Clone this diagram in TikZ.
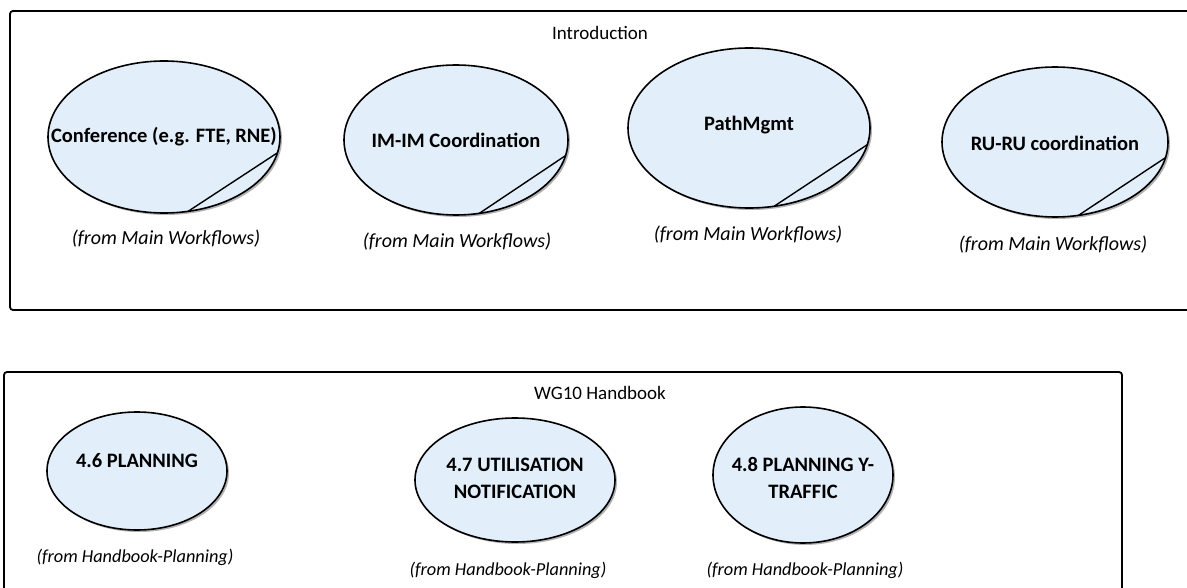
\documentclass[tikz,border=0pt]{standalone}
\usepackage{fontspec}
\setmainfont{Carlito}
\usetikzlibrary{shadows,shapes.geometric,calc}
\definecolor{ucfill}{RGB}{226,238,250}
\tikzset{
  x=1pt, y=-1pt,
  pkg/.style={draw=black, line width=1.8pt, rounded corners=3pt},
  uc/.style={ellipse, draw=black, line width=1.6pt, fill=ucfill, inner sep=0pt,
    drop shadow={shadow xshift=2pt, shadow yshift=-2pt, fill=black!30, opacity=1}},
  ucl/.style={font=\fontsize{20.5}{27}\selectfont\bfseries, align=center, inner sep=0pt},
  fromtxt/.style={font=\fontsize{20}{23}\selectfont\itshape, inner sep=0pt},
  fromhb/.style={font=\fontsize{18.3}{23}\selectfont\itshape, inner sep=0pt},
  pkgtitle/.style={font=\fontsize{19}{23}\selectfont, inner sep=0pt},
  fold/.style={draw=black, line width=1.4pt}
}
\begin{document}
\begin{tikzpicture}
\useasboundingbox (0,0) rectangle (1187,588);
% packages
\draw[pkg] (10,11) rectangle (1200,310);
\node[pkgtitle] (intro) at (600,33) {Introduction};
\draw[pkg] (4,372) rectangle (1122,610);
\node[pkgtitle] (wg10) at (600,393) {WG10 Handbook};

% Introduction use cases
\node[uc, minimum width=232pt, minimum height=152pt] (e1) at (164,137) {};
\node[uc, minimum width=224pt, minimum height=150pt] (e2) at (456,140) {};
\node[uc, minimum width=242pt, minimum height=160pt] (e3) at (749,128) {};
\node[uc, minimum width=226pt, minimum height=150pt] (e4) at (1055,142) {};
\draw[fold] ($(e1.center)+({116*cos(12)},{76*sin(12)})$) -- ($(e1.center)+({116*cos(78)},{76*sin(78)})$);
\draw[fold] ($(e2.center)+({112*cos(12)},{75*sin(12)})$) -- ($(e2.center)+({112*cos(78)},{75*sin(78)})$);
\draw[fold] ($(e3.center)+({121*cos(12)},{80*sin(12)})$) -- ($(e3.center)+({121*cos(78)},{80*sin(78)})$);
\draw[fold] ($(e4.center)+({113*cos(12)},{75*sin(12)})$) -- ($(e4.center)+({113*cos(78)},{75*sin(78)})$);
\node[ucl] (t1) at (164,137) {Conference (e.g. FTE, RNE)};
\node[ucl] (t2) at (456,140) {IM-IM Coordination};
\node[ucl] (t3) at (749,125) {PathMgmt};
\node[ucl] (t4) at (1055,143) {RU-RU coordination};
\node[fromtxt] (c1) at (166,239) {(from Main Workflows)};
\node[fromtxt] (c2) at (457,242) {(from Main Workflows)};
\node[fromtxt] (c3) at (748,235) {(from Main Workflows)};
\node[fromtxt] (c4) at (1053,245) {(from Main Workflows)};

% WG10 use cases
\node[uc, minimum width=180pt, minimum height=118pt] (e5) at (137,471) {};
\node[uc, minimum width=200pt, minimum height=124pt] (e6) at (515,480) {};
\node[uc, minimum width=180pt, minimum height=136pt] (e7) at (803,475) {};
\node[ucl] (t5) at (137,461) {4.6 PLANNING};
\node[ucl] (t6) at (515,478) {4.7 UTILISATION\\NOTIFICATION};
\node[ucl] (t7) at (803,478) {4.8 PLANNING Y-\\TRAFFIC};
\node[fromhb] (c5) at (135,557) {(from Handbook-Planning)};
\node[fromhb] (c6) at (508,570) {(from Handbook-Planning)};
\node[fromhb] (c7) at (805,570) {(from Handbook-Planning)};
\end{tikzpicture}
\end{document}
